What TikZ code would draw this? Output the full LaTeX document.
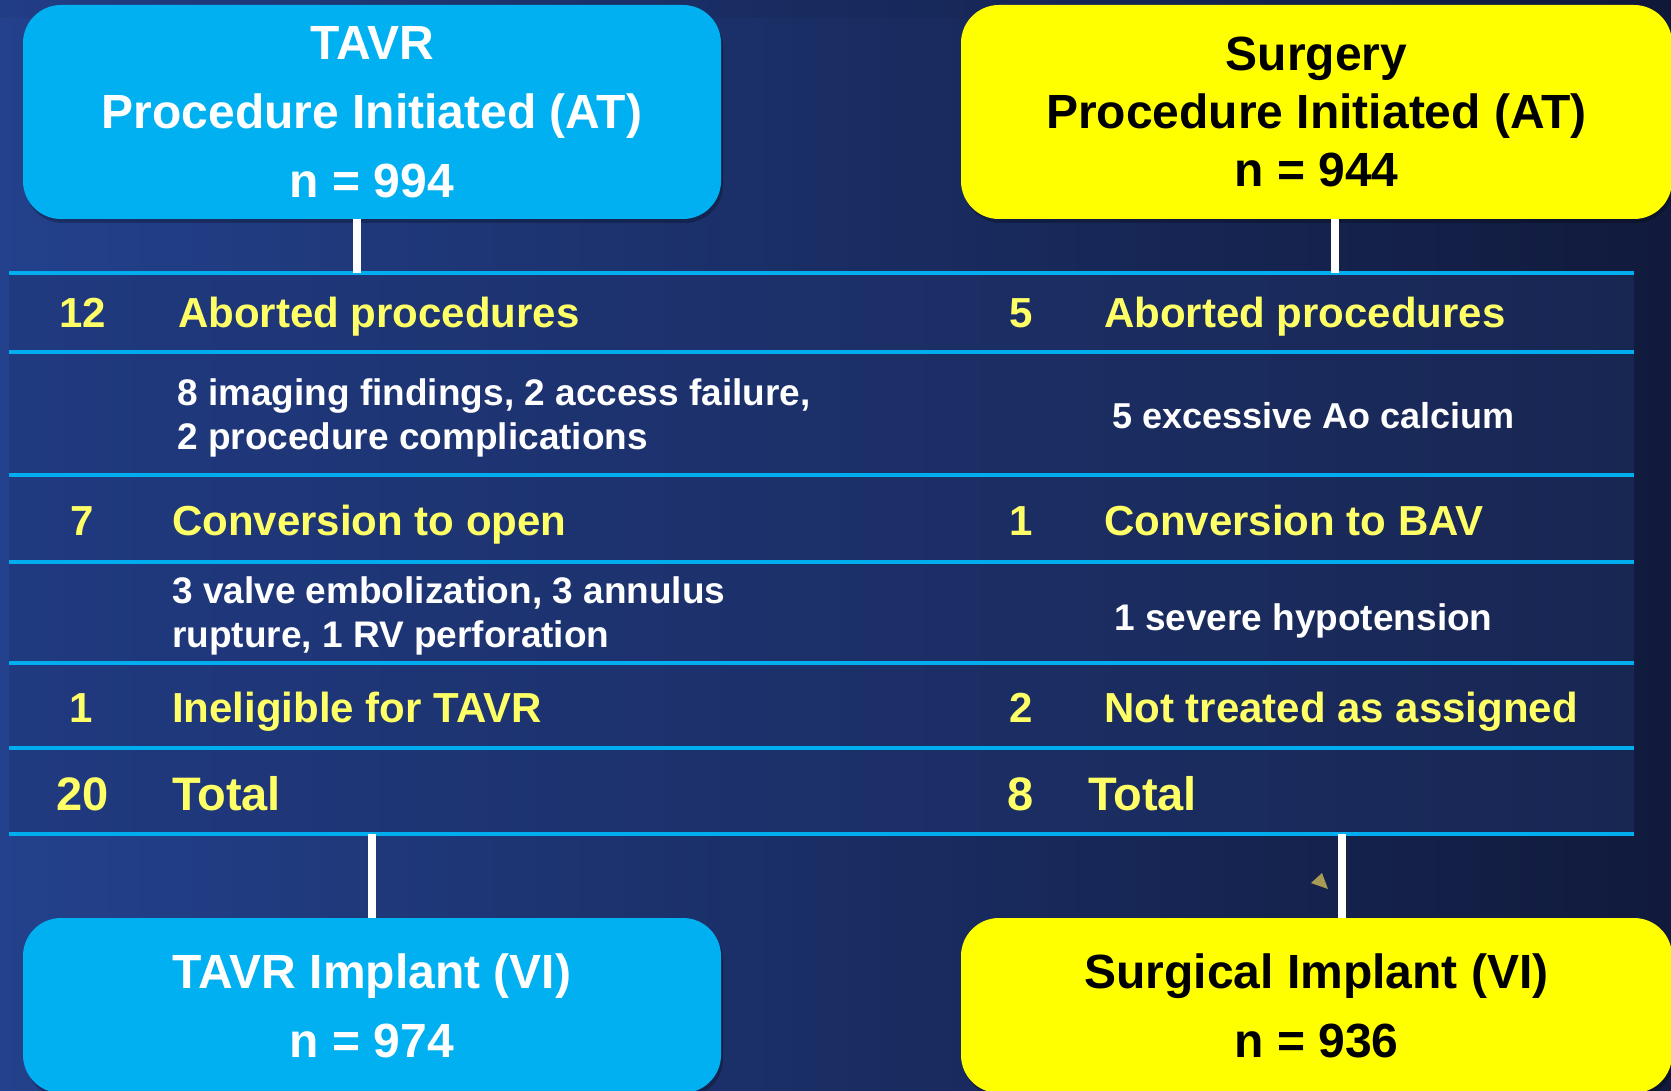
\documentclass[tikz,border=0pt]{standalone}
\usepackage{fontspec}
\setmainfont{Liberation Sans}
\usetikzlibrary{shadows}
\definecolor{bgA}{HTML}{23418C}
\definecolor{bgB}{HTML}{111A3C}
\definecolor{tabA}{HTML}{203A80}
\definecolor{tabB}{HTML}{182652}
\definecolor{boxcyan}{HTML}{00B0F0}
\definecolor{boxyellow}{HTML}{FFFF00}
\definecolor{txtyellow}{HTML}{FFFF66}
\definecolor{rulecol}{HTML}{00ADEE}
\definecolor{markcol}{HTML}{A89C55}
\begin{document}
\begin{tikzpicture}[x=1pt,y=-1pt,
  boxbase/.style={rounded corners=38pt, inner sep=0pt, align=center,
    font=\bfseries\fontsize{48}{69}\selectfont,
    drop shadow={shadow xshift=2pt,shadow yshift=-4pt,opacity=0.25,fill=black}},
  tavrbox/.style={boxbase, fill=boxcyan, text=white},
  surgbox/.style={boxbase, fill=boxyellow, text=black},
  conn/.style={draw=white, line width=8pt},
  rowline/.style={draw=rulecol, line width=3.5pt},
  numtxt/.style={anchor=base, inner sep=0pt, text=txtyellow, font=\bfseries\fontsize{42}{50}\selectfont},
  headtxt/.style={anchor=base west, inner sep=0pt, text=txtyellow, font=\bfseries\fontsize{42}{50}\selectfont},
  dettxt/.style={inner sep=0pt, text=white, align=left, font=\bfseries\fontsize{37}{44}\selectfont},
  totnum/.style={anchor=base, inner sep=0pt, text=txtyellow, font=\bfseries\fontsize{47}{55}\selectfont},
  tottxt/.style={anchor=base west, inner sep=0pt, text=txtyellow, font=\bfseries\fontsize{47}{55}\selectfont}
]
\useasboundingbox (0,0) rectangle (1671,1091);
% background
\shade[left color=bgA, right color=bgB] (0,0) rectangle (1671,1091);
\fill[black, opacity=0.05] (0,0) rectangle (1671,18);
% table area
\shade[left color=tabA, right color=tabB] (9,273) rectangle (1634,834);

% boxes
\node[tavrbox, minimum width=698pt, minimum height=214pt] (tavrAT) at (372,112)
  {TAVR\\Procedure Initiated (AT)\\n = 994};
\node[surgbox, minimum width=711pt, minimum height=214pt, font=\bfseries\fontsize{48}{58}\selectfont] (surgAT) at (1316.5,112)
  {Surgery\\Procedure Initiated (AT)\\n = 944};
\node[tavrbox, minimum width=698pt, minimum height=175pt] (tavrVI) at (372,1005.5)
  {TAVR Implant (VI)\\n = 974};
\node[surgbox, minimum width=711pt, minimum height=175pt] (surgVI) at (1316.5,1005.5)
  {Surgical Implant (VI)\\n = 936};

% table rules
\foreach \yy in {273,352,475,562,663,748,834}
  \draw[rowline] (9,\yy) -- (1634,\yy);

% connectors
\coordinate (ta) at (357,273);
\coordinate (sa) at (1335,273);
\coordinate (tb) at (372,834);
\coordinate (sb) at (1342,834);
\draw[conn] (tavrAT.south -| ta) -- (ta);
\draw[conn] (surgAT.south -| sa) -- (sa);
\draw[conn] (tb) -- (tavrVI.north -| tb);
\draw[conn] (sb) -- (surgVI.north -| sb);

% left column
\node[numtxt] (l1n) at (83,328) {12};
\node[headtxt] (l1t) at (178,328) {Aborted procedures};
\node[dettxt, anchor=west] (l2t) at (177,417.5) {8 imaging findings, 2 access failure,\\2 procedure complications};
\node[numtxt] (l3n) at (82,535) {7};
\node[headtxt] (l3t) at (172,535) {Conversion to open};
\node[dettxt, anchor=west] (l4t) at (172,616) {3 valve embolization, 3 annulus\\rupture, 1 RV perforation};
\node[numtxt] (l5n) at (81,722) {1};
\node[headtxt] (l5t) at (172,722) {Ineligible for TAVR};
\node[totnum] (l6n) at (83,810) {20};
\node[tottxt] (l6t) at (172,810) {Total};

% right column
\node[numtxt] (r1n) at (1021,328) {5};
\node[headtxt] (r1t) at (1104,328) {Aborted procedures};
\node[dettxt, anchor=base west, font=\bfseries\fontsize{36}{44}\selectfont] (r2t) at (1112,428) {5 excessive Ao calcium};
\node[numtxt] (r3n) at (1021,535) {1};
\node[headtxt] (r3t) at (1104,535) {Conversion to BAV};
\node[dettxt, anchor=base west] (r4t) at (1114,630) {1 severe hypotension};
\node[numtxt] (r5n) at (1021,722) {2};
\node[headtxt] (r5t) at (1104,722) {Not treated as assigned};
\node[totnum] (r6n) at (1021,810) {8};
\node[tottxt] (r6t) at (1088,810) {Total};

% small mark
\fill[markcol] (1311,883) -- (1322,873) -- (1328,889) -- cycle;
\end{tikzpicture}
\end{document}
